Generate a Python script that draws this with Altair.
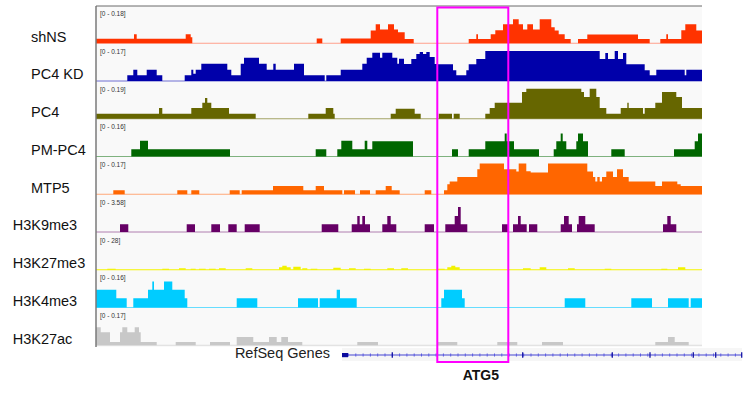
import altair as alt
import pandas as pd

# ---------------------------------------------------------------------------
# Track metadata
# ---------------------------------------------------------------------------
TRACKS = ["shNS", "PC4 KD", "PC4", "PM-PC4", "MTP5",
          "H3K9me3", "H3K27me3", "H3K4me3", "H3K27ac"]
RANGE_MAX = ["0.18", "0.17", "0.19", "0.16", "0.17", "3.58", "28", "0.16", "0.17"]

# ---------------------------------------------------------------------------
# Coverage segments per track: [start, end, level]
# positions are in window bins (0-606), level on a 0-38 display scale
# where 38 is the top of the track's data range
# ---------------------------------------------------------------------------
SHNS = [
    [0, 38, 4.5], [38, 40.7, 9], [40.7, 89.7, 4.5], [89.7, 94.7, 9], [94.7, 96.3, 6],
    [220.7, 226.3, 4.7],
    [244.7, 274.7, 4.7], [274.7, 279.7, 12.7], [279.7, 284, 19], [284, 292, 13.7],
    [292, 298, 19], [298, 302, 13.7], [302, 308.7, 11], [308.7, 317.7, 4.3],
    [372.7, 380.3, 4.3], [380.3, 382, 9], [382, 394.7, 4.3], [394.7, 399.3, 9],
    [399.3, 407, 13], [407, 417, 19], [417, 422.7, 24], [422.7, 427, 19],
    [427, 431.3, 13.7], [431.3, 437, 19], [437, 443.7, 13.7], [443.7, 455.3, 24],
    [455.3, 458.7, 16], [458.7, 462.7, 12.7], [462.7, 468.7, 9], [468.7, 474.7, 4.3],
    [482, 491.3, 4.3], [491.3, 542, 8.7], [542, 553.7, 4.3],
    [564.3, 570.3, 4.3], [570.3, 572, 9], [572, 585.3, 4.3], [585.3, 589.3, 13],
    [589.3, 600.3, 19], [600.3, 606, 12.7],
]
PC4_KD = [
    [31.3, 37.3, 5.7], [37.3, 41.3, 11.3], [41.3, 50.7, 5.7], [50.7, 60.7, 11.3],
    [60.7, 66.3, 5.7],
    [88.7, 95.3, 5.7], [95.3, 97.3, 11.3], [97.3, 99.7, 7.3], [99.7, 105.3, 11.3],
    [105.3, 131.3, 17.3], [131.3, 135.3, 11.3], [135.3, 144.7, 5.7], [144.7, 148, 17.3],
    [148, 163, 23.3], [163, 170.7, 17.3], [170.7, 177.3, 11.3], [177.3, 179.7, 17.3],
    [179.7, 198, 11.3], [198, 208, 17.3], [208, 228.7, 5.7],
    [230.3, 244.7, 5.7], [244.7, 266.3, 11.3], [266.3, 270.7, 17.3], [270.7, 276.3, 23.3],
    [276.3, 284, 28.3], [284, 286.3, 23.3], [286.3, 296.3, 28.3], [296.3, 301.3, 23.3],
    [301.3, 303, 17.3], [303, 308, 22.3], [308, 315.3, 17], [315.3, 320.3, 22],
    [320.3, 323.7, 27], [323.7, 327, 29], [327, 330.3, 27], [330.3, 333.7, 29],
    [333.7, 338.7, 24], [338.7, 341.3, 17], [341.3, 357, 16.7], [357, 360.3, 10.7],
    [360.3, 370.3, 5.7], [370.3, 372.7, 10.7], [372.7, 380.3, 16.7], [380.3, 389.3, 22],
    [389.3, 503.7, 30], [503.7, 509.3, 22], [509.3, 512, 28], [512, 518.7, 22],
    [518.7, 522, 30], [522, 527, 22], [527, 530.3, 28], [530.3, 548.7, 16.7],
    [548.7, 553.7, 10.7], [553.7, 560.3, 5.7], [560.3, 588.7, 11.3], [588.7, 590.3, 5.7],
    [590.3, 606, 11.3],
]
PC4 = [
    [0, 63, 5], [63, 66.3, 10.7], [66.3, 95.3, 5], [95.3, 106.3, 10.7],
    [106.3, 109, 16], [109, 111.3, 20.7], [111.3, 115.3, 16], [115.3, 133, 10.7],
    [133, 159.7, 5],
    [212.3, 229.7, 5], [229.7, 237.3, 10.7], [237.3, 238.7, 5],
    [294.7, 299.7, 5], [299.7, 318.7, 10], [318.7, 324.7, 5],
    [342.7, 356, 5], [357.7, 363.7, 5],
    [389.3, 393.7, 5], [393.7, 398.7, 10.7], [398.7, 426, 16], [426, 430.3, 26.7],
    [430.3, 485.3, 30], [485.3, 488, 26.7], [488, 493.7, 21.7], [493.7, 500.3, 30],
    [500.3, 503.7, 21.7], [503.7, 510.3, 10.7], [510.3, 524.7, 5], [524.7, 531.3, 10.7],
    [531.3, 532.7, 16], [532.7, 547, 10.7], [547, 548.7, 5], [548.7, 559.3, 10.7],
    [559.3, 566, 16], [566, 580.3, 26.7], [580.3, 586, 21.7], [586, 606, 10.7],
]
PM_PC4 = [
    [35.3, 44, 7.3], [44, 52, 15.7], [52, 134, 7.3],
    [219.7, 230.3, 7.3],
    [241.3, 245.3, 7.3], [245.3, 256.3, 15.7], [256.3, 268.7, 7.3], [268.7, 271.3, 15.7],
    [271.3, 276.3, 7.3], [276.3, 317, 15.3],
    [356, 362, 7.3],
    [372.7, 389.3, 7.3], [389.3, 408.7, 15.3], [408.7, 410.7, 23], [410.7, 418, 15.3],
    [418, 443, 7.3],
    [457.7, 460.3, 7.3], [460.3, 464.7, 15.3], [464.7, 466.7, 23], [466.7, 470.3, 15.3],
    [470.3, 480.3, 7.3], [480.3, 482, 15.3], [482, 487, 23], [487, 492, 15.3],
    [515.3, 528.7, 7.3],
    [578, 598.7, 7.3], [598.7, 602, 15.3], [602, 606, 23],
]
MTP5 = [
    [17.3, 28.7, 4], [81.3, 91.3, 4], [95.3, 103.3, 4], [133.7, 143.7, 4],
    [145.7, 177, 4], [177, 207.3, 8.3], [207.3, 219.7, 4], [219.7, 228, 8.3],
    [228, 246.3, 4], [248, 259, 4], [264, 274, 4], [279.7, 289.7, 4],
    [289.7, 295.7, 8.3], [295.7, 303.7, 4],
    [328.7, 335.3, 4], [348, 351.3, 4], [351.3, 353.7, 10], [353.7, 361.3, 12.7],
    [361.3, 381.3, 17.3], [381.3, 383.7, 25], [383.7, 408, 30.7], [408, 420.3, 25],
    [420.3, 422.7, 22.7], [422.7, 430.3, 30.7], [430.3, 434.7, 23], [434.7, 452, 21.7],
    [452, 491.3, 30.7], [491.3, 497, 22.7], [497, 499.3, 17.3], [499.3, 501.3, 12.7],
    [501.3, 503.7, 17.3], [503.7, 506, 12.7], [506, 510.3, 17.3], [510.3, 517, 22.7],
    [517, 521, 17.3], [521, 527, 25], [527, 532.7, 17.3], [532.7, 559.3, 12.7],
    [559.3, 566, 8.3], [566, 581.3, 12.7], [581.3, 584.7, 10], [584.7, 606, 8.3],
]
H3K9ME3 = [
    [24, 32.3, 7.7], [90.7, 99, 7.7], [115.3, 124, 7.7], [132.3, 140.7, 7.7],
    [148.7, 163.7, 7.7], [225.7, 242.3, 7.7], [255.7, 261.3, 7.7], [261.3, 263.7, 16],
    [263.7, 266.3, 7.7], [266.3, 269, 16], [269, 274, 7.7], [286.3, 291.3, 7.7],
    [291.3, 294.7, 16], [294.7, 300.3, 7.7],
    [328.7, 338, 7.7], [349.3, 358.7, 7.7], [358.7, 362, 16], [362, 364.7, 25],
    [364.7, 371.3, 7.7], [406, 413, 7.7], [417, 422, 7.7], [422, 424.7, 16],
    [424.7, 430.7, 7.7], [433, 441.3, 7.7], [464.7, 468, 7.7], [468, 472.7, 16],
    [472.7, 476, 7.7], [481, 482.7, 7.7], [482.7, 489.3, 16], [489.3, 498.7, 7.7],
    [567, 571.3, 7.7], [571.3, 574.7, 16], [574.7, 580.3, 7.7],
]
H3K27ME3 = [
    [11.3, 19.7, 1], [66.3, 73, 1], [83, 89.7, 1.5], [94.7, 99.7, 1], [103, 109.7, 1],
    [113, 119.7, 1], [123, 129.7, 1.5], [149.7, 156.3, 1.5], [183, 186.3, 2.5],
    [186.3, 190.7, 4], [190.7, 194.7, 2.5], [197.3, 204.7, 3], [206.3, 211.3, 1.5],
    [214.7, 221.3, 1], [237.3, 244.7, 2], [253, 259.7, 1.5], [268, 274.7, 1],
    [291.3, 298, 1.5], [305.3, 312, 1.5], [342, 348.7, 1], [351.3, 355.3, 2.5],
    [355.3, 359.3, 4], [359.3, 363.7, 2.5], [427, 434.7, 1.5], [443.7, 450.3, 2.5],
    [472, 478.7, 1.5], [508.7, 515.3, 1], [565.3, 571.3, 1], [582, 589.3, 2.5],
]
H3K4ME3 = [
    [0, 20.3, 17.7], [20.3, 30.7, 9.3], [37.3, 52, 9.3], [52, 56.3, 17.7],
    [56.3, 58, 26], [58, 68, 17.7], [68, 76.3, 26], [76.3, 88.7, 17.7], [88.7, 91.3, 9.3],
    [140.7, 161.3, 9.3], [202, 222, 9.3], [223.7, 240.7, 9.3], [240.7, 244, 17.7],
    [244, 260.7, 9.3], [345.3, 348, 9.3], [348, 366, 17.7], [366, 368.7, 9.3],
    [468.7, 489.3, 9.3], [535.3, 556, 9.3], [572, 592.7, 9.3], [594.7, 606, 9.3],
]
H3K27AC = [
    [0, 4.7, 18], [4.7, 14, 13], [14, 24, 3.3], [24, 26.3, 13], [26.3, 31.3, 18],
    [31.3, 38.7, 13], [38.7, 43, 18], [43, 44.7, 13], [44.7, 60.7, 3.3],
    [79.7, 99.7, 3.3], [114, 134, 3.3], [140.7, 157.3, 8.3], [157.3, 173, 3.3],
    [173, 180.7, 8.3], [180.7, 185.3, 3.3], [185.3, 192, 8.3], [192, 206.3, 3.3],
    [261.3, 282, 3.3], [342, 361.3, 3.3], [401.3, 421.3, 3.3], [446, 467, 3.3],
    [559.3, 572, 3.3], [572, 578.7, 8.3], [578.7, 592.7, 3.3],
]
SIGNAL = [SHNS, PC4_KD, PC4, PM_PC4, MTP5, H3K9ME3, H3K27ME3, H3K4ME3, H3K27AC]

# Highlighted promoter window and RefSeq gene model (window bins)
REGION = [341.3, 412.3]
GENE_SPAN = [246, 646]
GENE_START_BLOCK = [246, 252]
EXONS = [296.3, 426.7, 516.3, 554, 597.3, 619.7, 645.7]
GENE_NAME = "ATG5"

# ---------------------------------------------------------------------------
# Styling / layout
# ---------------------------------------------------------------------------
FILL = ["#ff3300", "#0000aa", "#666600", "#006600", "#ff6600",
        "#660066", "#f2f200", "#00ccff", "#c8c8c8"]
BASE_LINE = ["#ffa08c", "#6f6fd2", "#a3a366", "#7fb27f", "#ffa878",
             "#b07fb0", "#f5f500", "#66ddff", "#dcdcdc"]
BASE_WIDTH = [1, 1, 1, 1, 1, 1, 2, 1, 1]
W, H = 606, 341
TRACK_H = 37.75
FONT = "Liberation Sans"

# ---------------------------------------------------------------------------
# Tables
# ---------------------------------------------------------------------------
pts, bases, labels = [], [], []
for i, (name, segs) in enumerate(zip(TRACKS, SIGNAL)):
    base = (i + 1) * TRACK_H - 0.5
    top = i * TRACK_H
    for k, (s, e, lv) in enumerate(segs):
        pts.append({"track": name, "x": s, "top": base - lv, "base": base})
        nxt = segs[k + 1][0] if k + 1 < len(segs) else None
        if nxt is None or nxt > e:
            pts.append({"track": name, "x": e, "top": base, "base": base})
    bases.append({"track": name, "x0": 0, "x1": W, "base": base})
    labels.append({"track": name, "range": f"[0 - {RANGE_MAX[i]}]",
                   "ry": top + 8, "ly": top + 31.5,
                   "group": "sample" if i < 5 else "histone"})

area_df = pd.DataFrame(pts)
base_df = pd.DataFrame(bases)
label_df = pd.DataFrame(labels)
region_df = pd.DataFrame({"start": [REGION[0]], "end": [REGION[1]],
                          "mid": [(REGION[0] + REGION[1]) / 2], "name": [GENE_NAME]})
gene_df = pd.DataFrame({"start": [GENE_SPAN[0]], "end": [GENE_SPAN[1]],
                        "b0": [GENE_START_BLOCK[0]], "b1": [GENE_START_BLOCK[1]]})
exon_df = pd.DataFrame({"pos": EXONS})

xs = alt.Scale(domain=[0, W], nice=False, zero=False)
ys = alt.Scale(domain=[0, H], nice=False, zero=False, reverse=True)
X = lambda f: alt.X(f, scale=xs, axis=None)
Y = lambda f: alt.Y(f, scale=ys, axis=None)

baselines = alt.Chart(base_df).mark_rule().encode(
    x=X("x0:Q"), x2="x1:Q", y=Y("base:Q"),
    color=alt.Color("track:N", scale=alt.Scale(domain=TRACKS, range=BASE_LINE), legend=None),
    strokeWidth=alt.StrokeWidth("track:N", scale=alt.Scale(domain=TRACKS, range=BASE_WIDTH),
                                legend=None),
)

coverage = alt.Chart(area_df).mark_area(interpolate="step-after").encode(
    x=X("x:Q"),
    y=alt.Y("top:Q", scale=ys, axis=None, stack=None),
    y2="base:Q",
    color=alt.Color("track:N", scale=alt.Scale(domain=TRACKS, range=FILL), legend=None),
)

border_left = alt.Chart(gene_df).mark_rule(color="#7a7a7a", strokeWidth=1.5).encode(
    x=alt.value(0), y=alt.value(0), y2=alt.value(H))
border_top = alt.Chart(gene_df).mark_rule(color="#6a6a6a", strokeWidth=1).encode(
    x=alt.value(0), x2=alt.value(W), y=alt.value(0))

range_text = alt.Chart(label_df).mark_text(
    align="left", baseline="middle", font=FONT, fontSize=6.5, color="#333333"
).encode(x=alt.value(4), y=Y("ry:Q"), text="range:N")

name_sample = alt.Chart(label_df).transform_filter(alt.datum.group == "sample").mark_text(
    align="left", baseline="middle", font=FONT, fontSize=14.5, color="#111111"
).encode(x=alt.value(-65), y=Y("ly:Q"), text="track:N")
name_histone = alt.Chart(label_df).transform_filter(alt.datum.group == "histone").mark_text(
    align="left", baseline="middle", font=FONT, fontSize=14.5, color="#111111"
).encode(x=alt.value(-83.3), y=Y("ly:Q"), text="track:N")

# RefSeq gene model below the tracks
gene_bg = alt.Chart(gene_df).mark_rect(color="#f6f6f6").encode(
    x=X("start:Q"), x2="end:Q", y=alt.value(342), y2=alt.value(355))
gene_line = alt.Chart(gene_df).mark_rule(color="#4646d2", strokeWidth=1).encode(
    x=X("start:Q"), x2="end:Q", y=alt.value(349))
gene_arrows = alt.Chart(gene_df).mark_rule(
    color="#5a5ae0", strokeWidth=3, strokeDash=[1, 6.3]
).encode(x=X("b1:Q"), x2="end:Q", y=alt.value(349))
gene_block = alt.Chart(gene_df).mark_rect(color="#0a0a9c").encode(
    x=X("b0:Q"), x2="b1:Q", y=alt.value(347), y2=alt.value(351.2))
exons = alt.Chart(exon_df).mark_rule(color="#1414a6", strokeWidth=1.3).encode(
    x=X("pos:Q"), y=alt.value(346.3), y2=alt.value(351.7))
refseq_label = alt.Chart(gene_df).mark_text(
    align="right", baseline="middle", font=FONT, fontSize=14.5, color="#222222", dx=-12
).encode(x=X("start:Q"), y=alt.value(348), text=alt.value("RefSeq Genes"))

# Highlighted ATG5 promoter window
box = alt.Chart(region_df).mark_rect(filled=False, stroke="#ff00ff", strokeWidth=2).encode(
    x=X("start:Q"), x2="end:Q", y=alt.value(1.5), y2=alt.value(356))
gene_name = alt.Chart(region_df).mark_text(
    align="center", baseline="middle", font=FONT, fontSize=14, fontWeight="bold",
    color="#111111", dx=8
).encode(x=X("mid:Q"), y=alt.value(370), text="name:N")

chart = alt.layer(
    gene_bg, baselines, coverage, border_left, border_top, range_text,
    name_sample, name_histone, gene_line, gene_arrows, gene_block, exons,
    refseq_label, box, gene_name,
).resolve_scale(color="independent", strokeWidth="independent").properties(
    width=W, height=H, autosize="none",
    padding={"left": 96, "top": 6, "right": 45, "bottom": 47},
    background="white",
).configure_view(fill="#f9f9f9", stroke=None)

chart.save("out.html", embed_options={"renderer": "svg", "actions": False})
